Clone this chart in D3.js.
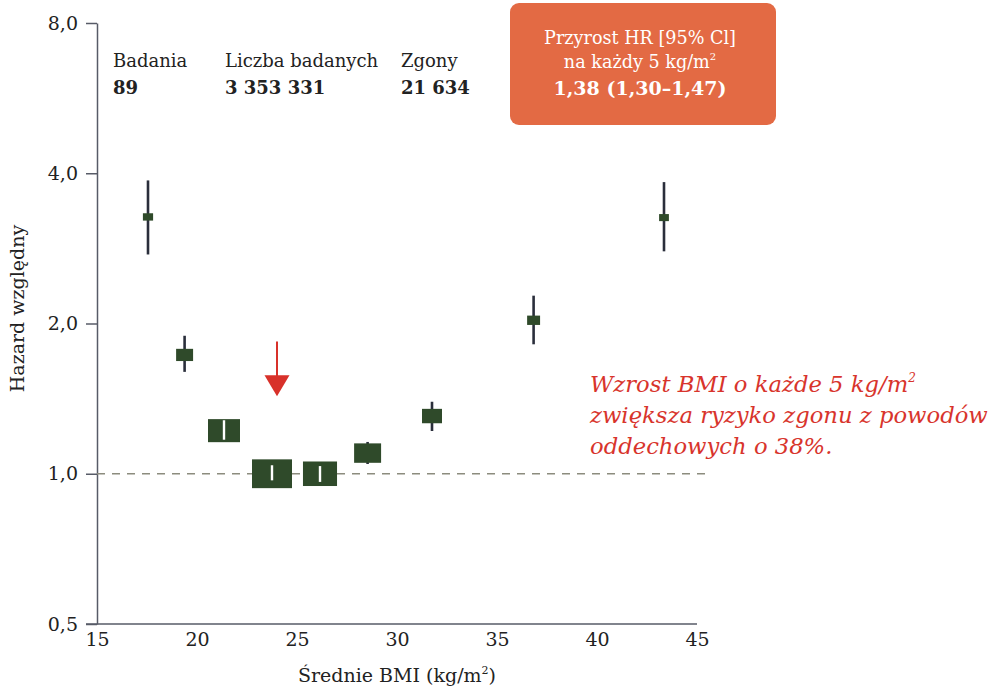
<!DOCTYPE html>
<html>
<head>
<meta charset="utf-8">
<script src="https://cdn.jsdelivr.net/npm/d3@7"></script>
<style>
  body { margin: 0; background: #fff; }
  svg text { font-family: "DejaVu Serif", "Liberation Serif", serif; }
</style>
</head>
<body>
<div id="chart"></div>
<script>
// dane
const bmi = [17.55, 19.38, 21.35, 23.75, 26.15, 28.53, 31.75, 36.83, 43.35];
const hr = [3.27, 1.73, 1.22, 1.0, 1.0, 1.10, 1.305, 2.03, 3.26];
const hrLow = [2.75, 1.60, 1.17, 0.97, 0.963, 1.046, 1.218, 1.817, 2.79];
const hrHigh = [3.87, 1.89, 1.28, 1.04, 1.036, 1.158, 1.394, 2.274, 3.84];
const weight = [2.6, 7.2, 25.6, 40, 29, 18.2, 10, 4.2, 2.4]; // względna waga (pole kwadratu)
const xTicks = [15, 20, 25, 30, 35, 40, 45];
const yTicks = [0.5, 1, 2, 4, 8];
const statLabels = ['Badania', 'Liczba badanych', 'Zgony'];
const statValues = ['89', '3 353 331', '21 634'];
const boxLines = ['Przyrost HR [95% Cl]', 'na każdy 5 kg/m²', '1,38 (1,30–1,47)'];
const noteLines = ['Wzrost BMI o każde 5 kg/m²', 'zwiększa ryzyko zgonu z powodów', 'oddechowych o 38%.'];
const refBmi = 24;

const width = 989, height = 691;
const margin = {top: 23, right: 292, bottom: 67, left: 97};

const svg = d3.select('#chart').append('svg')
  .attr('width', width)
  .attr('height', height);

const xScale = d3.scaleLinear()
  .domain([15, 45])
  .range([margin.left, width - margin.right]);
const yScale = d3.scaleLog()
  .base(2)
  .domain([0.5, 8])
  .range([height - margin.bottom, margin.top]);
const sizeScale = d3.scaleSqrt()
  .domain([0, 40])
  .range([0, 40]);

const fmt = d => d.toFixed(1).replace('.', ',');
const axisColor = '#575b67';

// oś Y
const yAxis = svg.append('g')
  .attr('transform', `translate(${margin.left},0)`)
  .call(d3.axisLeft(yScale).tickValues(yTicks).tickFormat(fmt).tickSize(11).tickSizeOuter(0).tickPadding(8));
yAxis.select('.domain').attr('stroke', axisColor).attr('stroke-width', 1.5);
yAxis.selectAll('.tick line').attr('stroke', axisColor).attr('stroke-width', 1.5);
yAxis.selectAll('.tick text').attr('font-size', 19).attr('fill', '#222')
  .attr('font-family', '"DejaVu Serif", serif');

// oś X
const xAxis = svg.append('g')
  .attr('transform', `translate(0,${height - margin.bottom})`)
  .call(d3.axisBottom(xScale).tickValues(xTicks).tickSize(0).tickPadding(9));
xAxis.select('.domain').remove();
xAxis.selectAll('.tick text').attr('font-size', 19).attr('fill', '#222')
  .attr('font-family', '"DejaVu Serif", serif');
svg.append('line')
  .attr('x1', margin.left - 11).attr('x2', xScale(45))
  .attr('y1', yScale(0.5)).attr('y2', yScale(0.5))
  .attr('stroke', axisColor).attr('stroke-width', 1.5);

// tytuły osi
svg.append('text')
  .attr('transform', `translate(24,${(yScale(8) + yScale(0.5)) / 2 - 15}) rotate(-90)`)
  .attr('text-anchor', 'middle')
  .attr('font-size', 19).attr('fill', '#222')
  .text('Hazard względny');
const xLabel = svg.append('text')
  .attr('x', xScale(30)).attr('y', 682)
  .attr('text-anchor', 'middle')
  .attr('font-size', 19).attr('fill', '#222');
xLabel.append('tspan').text('Średnie BMI (kg/m');
xLabel.append('tspan').attr('font-size', 11).attr('dy', -8).text('2');
xLabel.append('tspan').attr('dy', 8).text(')');

// linia odniesienia HR = 1
svg.append('line')
  .attr('x1', margin.left).attr('x2', xScale(45.4))
  .attr('y1', yScale(1)).attr('y2', yScale(1))
  .attr('stroke', '#8c8c7e').attr('stroke-width', 1.3)
  .attr('stroke-dasharray', '8,7');

// przedziały ufności + kwadraty
const pts = d3.range(bmi.length);
const g = svg.append('g');
g.selectAll('line.ci')
  .data(pts).enter().append('line')
  .attr('class', 'ci')
  .attr('x1', i => xScale(bmi[i])).attr('x2', i => xScale(bmi[i]))
  .attr('y1', i => yScale(hrLow[i])).attr('y2', i => yScale(hrHigh[i]))
  .attr('stroke', '#2a2e3b').attr('stroke-width', 2.6);
g.selectAll('rect')
  .data(pts).enter().append('rect')
  .attr('x', i => xScale(bmi[i]) - sizeScale(weight[i]) / 2)
  .attr('y', i => yScale(hr[i]) - sizeScale(weight[i]) * 0.36)
  .attr('width', i => sizeScale(weight[i]))
  .attr('height', i => sizeScale(weight[i]) * 0.72)
  .attr('fill', '#2f4a2a');
// białe przedziały wewnątrz dużych kwadratów
g.selectAll('line.ciw')
  .data(pts.filter(i => yScale(hrLow[i]) - yScale(hrHigh[i]) < sizeScale(weight[i]) * 0.72))
  .enter().append('line')
  .attr('class', 'ciw')
  .attr('x1', i => xScale(bmi[i])).attr('x2', i => xScale(bmi[i]))
  .attr('y1', i => yScale(hrLow[i])).attr('y2', i => yScale(hrHigh[i]))
  .attr('stroke', '#fff').attr('stroke-width', 2.4);

// strzałka kategorii referencyjnej
const arrowX = xScale(refBmi);
const arrowTop = yScale(1.84), arrowTip = yScale(1.43);
svg.append('line')
  .attr('x1', arrowX).attr('x2', arrowX)
  .attr('y1', arrowTop).attr('y2', arrowTip - 18)
  .attr('stroke', '#d8312a').attr('stroke-width', 2);
svg.append('path')
  .attr('d', `M${arrowX - 12.5},${arrowTip - 21}L${arrowX + 12.5},${arrowTip - 21}L${arrowX},${arrowTip}Z`)
  .attr('fill', '#d8312a');

// statystyki
const statX = [113, 225, 401];
statLabels.forEach((s, i) => {
  svg.append('text').attr('x', statX[i]).attr('y', 67)
    .attr('font-size', 18).attr('fill', '#222').text(s);
  svg.append('text').attr('x', statX[i]).attr('y', 94)
    .attr('font-size', 18).attr('font-weight', 'bold').attr('fill', '#222').text(statValues[i]);
});

// pomarańczowa ramka
svg.append('rect')
  .attr('x', 510).attr('y', 3)
  .attr('width', 266).attr('height', 122)
  .attr('rx', 9)
  .attr('fill', '#e36a44');
const boxY = [44, 68, 95];
boxLines.forEach((s, i) => {
  const t = svg.append('text').attr('x', 640).attr('y', boxY[i])
    .attr('text-anchor', 'middle')
    .attr('fill', '#fff')
    .attr('font-size', i === 2 ? 19 : 17.6)
    .attr('font-weight', i === 2 ? 'bold' : 'normal');
  if (s.endsWith('²')) {
    t.append('tspan').text(s.slice(0, -1));
    t.append('tspan').attr('font-size', 10).attr('dy', -8).text('2');
  } else {
    t.text(s);
  }
});

// adnotacja
noteLines.forEach((s, i) => {
  const t = svg.append('text').attr('x', 590).attr('y', 392 + i * 31)
    .attr('font-size', 22.7).attr('font-style', 'italic').attr('fill', '#d8342c');
  if (s.endsWith('²')) {
    t.append('tspan').text(s.slice(0, -1));
    t.append('tspan').attr('font-size', 12).attr('dy', -10).text('2');
  } else {
    t.text(s);
  }
});
</script>
</body>
</html>
